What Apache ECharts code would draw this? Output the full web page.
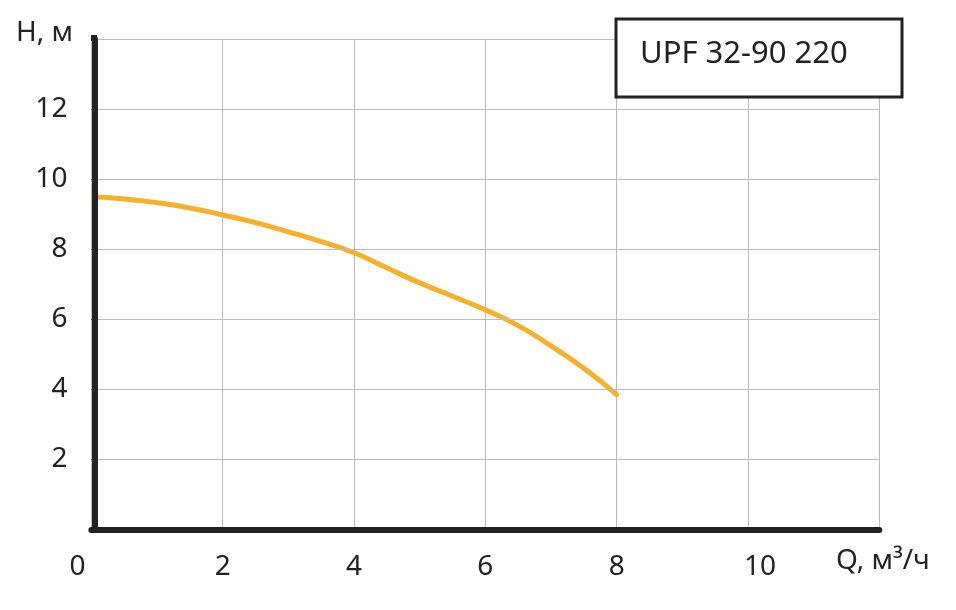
<!DOCTYPE html>
<html><head><meta charset="utf-8">
<script src="https://cdn.jsdelivr.net/npm/echarts@6/dist/echarts.min.js"></script>
<style>html,body{margin:0;padding:0;background:#fff}#c{width:956px;height:610px}</style>
</head><body><div id="c"></div>
<script>
const flowQ = [0, 0.5, 1, 1.5, 2, 2.5, 3, 3.5, 4, 4.5, 5, 5.5, 6, 6.5, 7, 7.5, 8];
const headH = [9.5, 9.44, 9.33, 9.18, 8.98, 8.76, 8.5, 8.22, 7.9, 7.47, 7.04, 6.66, 6.27, 5.82, 5.24, 4.6, 3.85];
const xTicks = [0, 2, 4, 6, 8, 10];
const yTicks = [2, 4, 6, 8, 10, 12];
const title = 'UPF 32-90 220';
const xName = 'Q, м³/ч';
const yName = 'H, м';

const FONT = 'Noto Sans';
const chart = echarts.init(document.getElementById('c'));
chart.setOption({
  animation: false,
  backgroundColor: '#fff',
  grid: { left: 91.4, right: 76.7, top: 39.3, bottom: 80.7 },
  xAxis: {
    type: 'value', min: 0, max: 12, interval: 2,
    axisLine: { show: true, onZero: false, lineStyle: { color: '#222', width: 6 } },
    axisTick: { show: false },
    splitLine: { show: true, lineStyle: { color: '#bdbdbd', width: 1 } },
    axisLabel: {
      margin: 24, color: '#222', fontFamily: FONT, fontSize: 28,
      formatter: v => xTicks.indexOf(v) < 0 ? '' : (v === 0 ? '{l|0}' : v === 10 ? '{r|10}' : String(v)),
      rich: {
        l: { fontFamily: FONT, fontSize: 28, color: '#222', padding: [0, 28, 0, 0] },
        r: { fontFamily: FONT, fontSize: 28, color: '#222', padding: [0, 0, 0, 24] }
      }
    }
  },
  yAxis: {
    type: 'value', min: 0, max: 14, interval: 2, offset: -3, z: 5,
    axisLine: { show: true, onZero: false, lineStyle: { color: '#222', width: 6 } },
    axisTick: { show: true, length: 3, lineStyle: { color: '#222' } },
    splitLine: { show: true, showMinLine: false, lineStyle: { color: '#bdbdbd', width: 1 } },
    axisLabel: {
      margin: 27, color: '#222', fontFamily: FONT, fontSize: 28,
      formatter: v => yTicks.indexOf(v) < 0 ? '' : String(v)
    }
  },
  series: [{
    type: 'line', smooth: true, showSymbol: false, z: 2,
    data: flowQ.map((q, i) => [q, headH[i]]),
    lineStyle: { color: '#F8B02B', width: 5, cap: 'round' }
  }],
  graphic: [
    { type: 'rect', left: 91, top: 35, shape: { width: 6, height: 6 },
      style: { fill: '#222' }, z: 100 },
    { type: 'rect', left: 84, top: 188, shape: { width: 7, height: 16 },
      style: { fill: '#fff' }, z: 90 },
    { type: 'rect', left: 614.5, top: 17.5, shape: { width: 286, height: 78 },
      style: { fill: '#fff', stroke: '#222', lineWidth: 3 }, z: 100 },
    { type: 'text', left: 640, top: 39, z: 101,
      style: { text: title, fontFamily: FONT, fontSize: 31, fill: '#222', letterSpacing: 1 } },
    { type: 'text', left: 836, top: 547, z: 101,
      style: { text: xName, fontFamily: FONT, fontSize: 28, fill: '#222' } },
    { type: 'text', left: 16, top: 19, z: 101,
      style: { text: yName, fontFamily: FONT, fontSize: 28, fill: '#222' } }
  ]
});
</script></body></html>
